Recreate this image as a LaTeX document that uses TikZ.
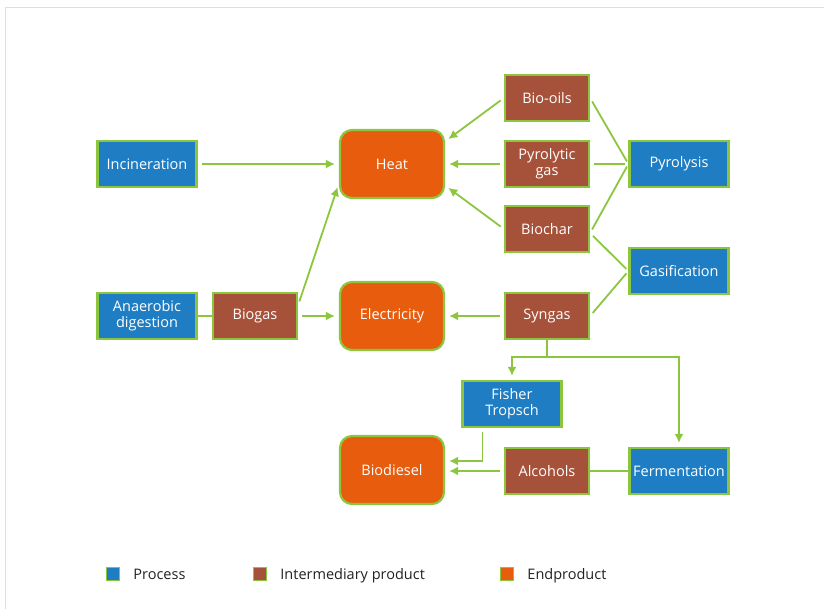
\documentclass[tikz,border=0pt]{standalone}
\usepackage{fontspec}
\setmainfont{Open Sans}
\usetikzlibrary{arrows.meta,positioning}

\definecolor{procblue}{HTML}{1F7EC3}
\definecolor{intbrown}{HTML}{A6523B}
\definecolor{endorange}{HTML}{E85C0D}
\definecolor{boxgreen}{HTML}{8CC63F}
\definecolor{textdark}{HTML}{222222}

\begin{document}
\begin{tikzpicture}[x=1pt, y=-1pt,
    every node/.style={font=\fontsize{14.5}{16}\selectfont},
    box/.style={draw=boxgreen, line width=2.2pt, text=white, align=center, inner sep=0pt},
    process/.style={box, fill=procblue, minimum width=99pt, minimum height=46pt},
    interm/.style={box, fill=intbrown, minimum width=84pt, minimum height=46pt},
    endprod/.style={box, fill=endorange, rounded corners=12pt, minimum width=104pt, minimum height=68pt},
    flow/.style={draw=boxgreen, line width=1.8pt, -{Latex[length=9pt,width=9pt]}, shorten >=4pt, shorten <=4pt},
    link/.style={draw=boxgreen, line width=1.8pt},
    legend/.style={draw=boxgreen, line width=1.5pt, minimum size=13pt, inner sep=0pt},
    legendtext/.style={text=textdark, inner sep=2pt, text height=0.75em, text depth=0.25em, yshift=-2.5pt}]
  \useasboundingbox (0,0) rectangle (824,609);
  \draw[gray!25, line width=1pt] (5,609) -- (5,8) -- (824,8);

  % processes and products
  \node[process] (incin) at (147,164) {Incineration};
  \node[endprod] (heat) at (392,164) {Heat};
  \node[interm] (biooils) at (547,98) {Bio-oils};
  \node[interm] (pyrgas) at (547,164) {Pyrolytic\\gas};
  \node[interm] (biochar) at (547,229) {Biochar};
  \node[process] (pyrolysis) at (679,164) {Pyrolysis};
  \node[process] (gasif) at (679,271) {Gasification};
  \node[process] (anaer) at (147,316) {Anaerobic\\digestion};
  \node[interm] (biogas) at (255,316) {Biogas};
  \node[endprod] (elec) at (392,316) {Electricity};
  \node[interm] (syngas) at (547,316) {Syngas};
  \node[process] (fisher) at (512,404) {Fisher\\Tropsch};
  \node[endprod] (biodiesel) at (392,470) {Biodiesel};
  \node[interm] (alcohols) at (547,471) {Alcohols};
  \node[process] (ferment) at (679,471) {Fermentation};

  % connectors
  \draw[flow] (incin) -- (heat);
  \draw[flow] (biooils.west) -- (heat.23);
  \draw[flow] (pyrgas) -- (heat);
  \draw[flow] (biochar.west) -- (heat.-22);
  \draw[link, shorten <=3pt, shorten >=4pt] (pyrolysis.west) -- (biooils.east);
  \draw[link, shorten <=3pt, shorten >=4pt] (pyrolysis.west) -- (pyrgas.east);
  \draw[link, shorten <=3pt, shorten >=4pt] (pyrolysis.west) -- ([yshift=-4pt]biochar.east);
  \draw[link, shorten <=3pt, shorten >=4pt] (gasif.west) -- ([yshift=-4pt]biochar.east);
  \draw[link, shorten <=3pt, shorten >=4pt] (gasif.west) -- (syngas.east);
  \draw[link] (anaer) -- (biogas);
  \draw[flow] (biogas) -- (elec);
  \draw[flow] (biogas.14) -- (heat.200);
  \draw[flow] (syngas) -- (elec);
  \coordinate (split) at ([yshift=-17pt]syngas.south);
  \draw[flow, shorten <=0pt] (syngas.south) -- (split) -| (fisher.north);
  \draw[flow, shorten <=0pt] (split) -| (ferment.north);
  \draw[flow] ([xshift=21pt]fisher.south west) |- ([yshift=9pt]biodiesel.east);
  \draw[flow] (alcohols.west) -- (alcohols.west -| biodiesel.east);
  \draw[link] (alcohols) -- (ferment);

  % legend
  \node[legend, fill=procblue] (lgproc) at (113,574) {};
  \node[legendtext, right=11pt of lgproc] (lgproctext) {Process};
  \node[legend, fill=intbrown] (lgint) at (260,574) {};
  \node[legendtext, right=11pt of lgint] (lginttext) {Intermediary product};
  \node[legend, fill=endorange] (lgend) at (507,574) {};
  \node[legendtext, right=11pt of lgend] (lgendtext) {Endproduct};
\end{tikzpicture}
\end{document}
